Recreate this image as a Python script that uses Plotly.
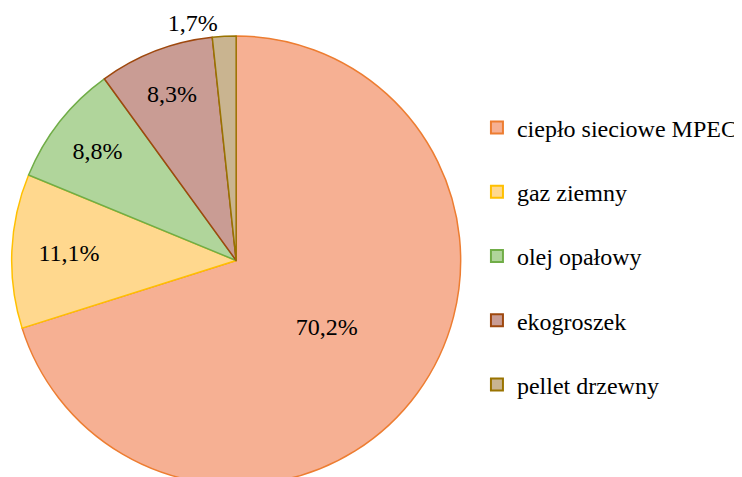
import plotly.graph_objects as go

labels = ["ciepło sieciowe MPEC", "gaz ziemny", "olej opałowy", "ekogroszek", "pellet drzewny"]
shares = [70.2, 11.1, 8.8, 8.3, 1.7]
fills = ["#F6B093", "#FFD88E", "#B0D59B", "#C99C94", "#C9B490"]
borders = ["#ED7D31", "#FFC000", "#70AD47", "#9E480E", "#997300"]
text_pos = ["inside", "inside", "inside", "inside", "outside"]

font = "Liberation Serif"

fig = go.Figure()
fig.add_trace(go.Pie(
    labels=labels,
    values=shares,
    sort=False,
    direction="clockwise",
    rotation=0,
    marker=dict(colors=fills, line=dict(color=borders, width=1.5)),
    texttemplate="%{value:.1f}%",
    textposition=text_pos,
    insidetextorientation="horizontal",
    textfont=dict(family=font, size=24, color="black"),
    showlegend=False,
    hoverinfo="label+value",
    domain=dict(x=[0.0, 0.615], y=[0, 1]),
))

# legend entries, one group each so the gap can be set
for name, c, b in zip(labels, fills, borders):
    fig.add_trace(go.Scatter(
        x=[None], y=[None], mode="markers", name=name, legendgroup=name,
        marker=dict(symbol="square", size=12, color=c, line=dict(color=b, width=2)),
    ))

fig.update_layout(
    width=742, height=477,
    margin=dict(t=28, l=0, r=0, b=0, autoexpand=False),
    paper_bgcolor="white", plot_bgcolor="white",
    separators=", ",
    xaxis=dict(visible=False), yaxis=dict(visible=False),
    legend=dict(
        x=0.632, y=0.51, xanchor="left", yanchor="middle",
        font=dict(family=font, size=24, color="black"),
        tracegroupgap=30,
    ),
)

fig.write_html("out.html")
